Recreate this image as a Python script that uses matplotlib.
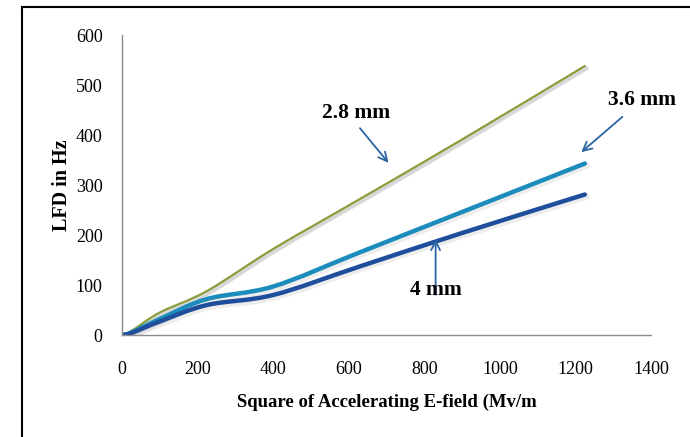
import numpy as np
import matplotlib
matplotlib.use("Agg")
import matplotlib.pyplot as plt
from matplotlib.path import Path
from matplotlib.patches import PathPatch, Rectangle
import matplotlib.patheffects as pe

# Data
e_sq = [0, 25, 100, 225, 400, 625, 900, 1225]
lfd_28 = [0, 8, 45, 88, 172, 270, 391, 538]
lfd_36 = [0, 5, 32, 72, 97, 164, 246, 343]
lfd_40 = [0, 4, 27, 60, 80, 136, 204, 281]
xticks = [0, 200, 400, 600, 800, 1000, 1200, 1400]
yticks = [0, 100, 200, 300, 400, 500, 600]

def smooth_path(xs, ys, t=1/6):
    xs = np.asarray(xs, float); ys = np.asarray(ys, float)
    pts = np.column_stack([xs, ys])
    verts = [pts[0]]
    codes = [Path.MOVETO]
    n = len(pts)
    for i in range(n - 1):
        p0 = pts[i - 1] if i > 0 else pts[i]
        p1 = pts[i]
        p2 = pts[i + 1]
        p3 = pts[i + 2] if i + 2 < n else pts[i + 1]
        c1 = p1 + (p2 - p0) * t
        c2 = p2 - (p3 - p1) * t
        verts += [c1, c2, p2]
        codes += [Path.CURVE4] * 3
    return Path(verts, codes)

fig = plt.figure(figsize=(6.9, 4.37), dpi=100)
ax = fig.add_axes([122/690, 1 - 335/437, (651-122)/690, (335-35)/437])

serif = ['Liberation Serif', 'DejaVu Serif']

series = [
    (lfd_28, '#8a9f3c', 1.6, 0.55),
    (lfd_36, '#1b8cbc', 3.2, 0.25),
    (lfd_40, '#1f4f9c', 3.2, 0.25),
]
for ys, col, lw, sa in series:
    patch = PathPatch(smooth_path(e_sq, ys), facecolor='none', edgecolor=col,
                      lw=lw, capstyle='round',
                      path_effects=[pe.SimpleLineShadow(offset=(1.2, -1.5), shadow_color='#b8b8b8', alpha=sa, linewidth=lw + 1.5),
                                    pe.Normal()])
    ax.add_patch(patch)

ax.set_xlim(0, 1400)
ax.set_ylim(0, 600)
ax.set_xticks(xticks)
ax.set_yticks(yticks)
ax.tick_params(length=0, labelsize=13)
ax.tick_params(axis='x', pad=19)
ax.tick_params(axis='y', pad=14)
for lab in ax.get_xticklabels() + ax.get_yticklabels():
    lab.set_family(serif)
for s in ['top', 'right']:
    ax.spines[s].set_visible(False)
for s in ['left', 'bottom']:
    ax.spines[s].set_color('#8c8c8c')
    ax.spines[s].set_linewidth(1.0)

ax.set_ylabel('LFD in Hz', fontsize=14.5, fontweight='bold', family=serif, labelpad=3)
ax.set_xlabel('Square of Accelerating E-field (Mv/m', fontsize=13.5, fontweight='bold',
              family=serif, labelpad=11)

arrow_col = '#2a64a4'
akw = dict(arrowstyle='->', color=arrow_col, lw=1.3, mutation_scale=16)
ax.annotate('', xy=(710, 340), xytext=(625, 418), arrowprops=akw)
ax.annotate('2.8 mm', xy=(620, 445), ha='center', va='center', fontsize=15.5,
            fontweight='bold', family=serif)
ax.annotate('', xy=(1210, 362), xytext=(1330, 440), arrowprops=akw)
ax.annotate('3.6 mm', xy=(1375, 470), ha='center', va='center', fontsize=15.5,
            fontweight='bold', family=serif, annotation_clip=False)
ax.annotate('', xy=(830, 197), xytext=(830, 75), arrowprops=akw)
ax.annotate('4 mm', xy=(830, 90), ha='center', va='center', fontsize=15.5,
            fontweight='bold', family=serif)

fig.patches.append(Rectangle((22/690, -0.05), 2, 1.05 - 7/437, transform=fig.transFigure,
                             fill=False, edgecolor='black', lw=1.5))

fig.savefig('out.png', dpi=100)
